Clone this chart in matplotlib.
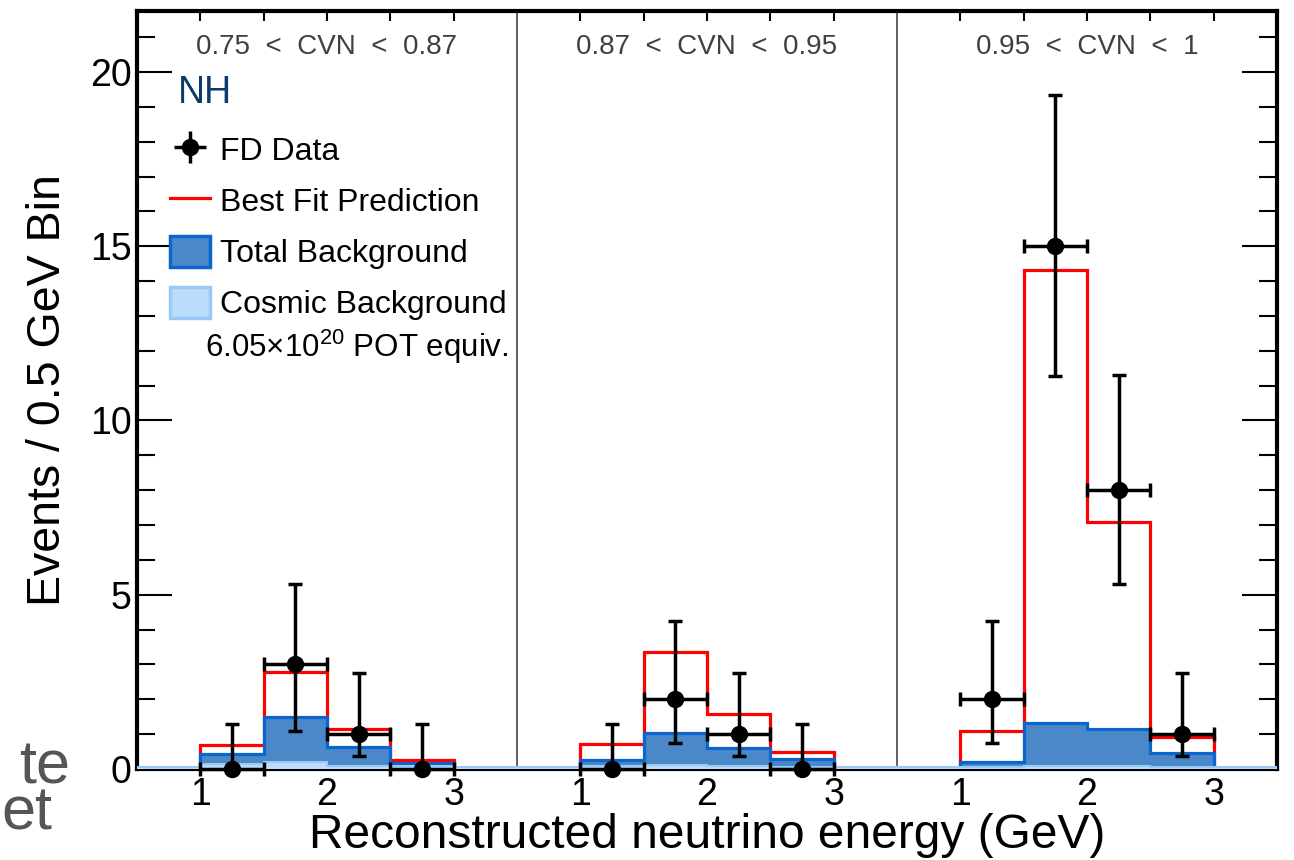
import matplotlib
matplotlib.use("Agg")
import matplotlib.pyplot as plt
from matplotlib.lines import Line2D
from matplotlib.patches import Patch
import numpy as np

plt.rcParams['font.family'] = ['Liberation Sans', 'DejaVu Sans']
plt.rcParams['mathtext.fontset'] = 'custom'
plt.rcParams['mathtext.rm'] = 'Liberation Sans'

# CVN slices, each drawn over 0.5 - 3.5 GeV side by side
panel_labels = ["0.75  <  CVN  <  0.87", "0.87  <  CVN  <  0.95", "0.95  <  CVN  <  1"]
bin_edges = [1.0, 1.5, 2.0, 2.5, 3.0]
cosmic_edges = [0.5, 1.0, 1.5, 2.0, 2.5, 3.0, 3.5]

best_fit = [
    [0.69, 2.78, 1.14, 0.26],
    [0.71, 3.36, 1.58, 0.48],
    [1.09, 14.32, 7.08, 0.93],
]
total_bkg = [
    [0.42, 1.48, 0.64, 0.18],
    [0.26, 1.02, 0.60, 0.29],
    [0.21, 1.33, 1.14, 0.47],
]
cosmic_bkg = [
    [0.06, 0.14, 0.20, 0.10, 0.08, 0.06],
    [0.06, 0.08, 0.12, 0.08, 0.07, 0.06],
    [0.06, 0.07, 0.08, 0.08, 0.07, 0.06],
]
fd_counts = [
    [0, 3, 1, 0],
    [0, 2, 1, 0],
    [2, 15, 8, 1],
]
# 68% intervals on the observed counts
fd_low = [
    [0.0, 1.10, 0.37, 0.0],
    [0.0, 0.74, 0.37, 0.0],
    [0.74, 11.28, 5.31, 0.37],
]
fd_high = [
    [1.29, 5.30, 2.75, 1.29],
    [1.29, 4.25, 2.75, 1.29],
    [4.25, 19.33, 11.31, 2.75],
]
energy_ticks = [1, 2, 3]

RED = '#ff0000'
BKG_FILL = '#4a88c8'
BKG_EDGE = '#0a66cc'
COS_FILL = '#bbdcfa'
COS_EDGE = '#99c9f4'

fig = plt.figure(figsize=(12.94, 8.6), dpi=100)
ax = fig.add_axes([137 / 1294, 1 - 769 / 860, 1140 / 1294, 758 / 860])

panel_width = 3.0
offset0 = 0.5
for k in range(3):
    shift = k * panel_width - offset0
    edges = np.array(bin_edges) + shift
    cedges = np.array(cosmic_edges) + shift
    ax.stairs(best_fit[k], edges, baseline=0, color=RED, linewidth=2.3, zorder=2)
    ax.stairs(total_bkg[k], edges, baseline=0, fill=True, color=BKG_FILL, zorder=3)
    ax.stairs(total_bkg[k], edges, baseline=0, color=BKG_EDGE, linewidth=2.3, zorder=3)
    ax.stairs(cosmic_bkg[k], cedges, baseline=0, fill=True, color=COS_FILL, zorder=4)
    ax.stairs(cosmic_bkg[k], cedges, baseline=None, color=COS_EDGE, linewidth=1.5, zorder=4)

    centers = (edges[:-1] + edges[1:]) / 2
    y = np.array(fd_counts[k], dtype=float)
    yerr = [y - np.array(fd_low[k]), np.array(fd_high[k]) - y]
    ax.errorbar(centers, y, xerr=0.25, yerr=yerr, fmt='o', color='black',
                ms=11.5, elinewidth=2.5, capsize=5, capthick=2.5,
                zorder=6, clip_on=False)

    ax.text(1.5 + k * panel_width, 0.952, panel_labels[k],
            transform=ax.get_xaxis_transform(), ha='center', va='center',
            fontsize=20, color='#404040')

for xd in [3.0, 6.0]:
    ax.axvline(xd, color='#555555', linewidth=1.3, zorder=1)

ax.set_xlim(0, 9)
ax.set_ylim(0, 21.75)

major_x = [e - offset0 + k * panel_width for k in range(3) for e in energy_ticks]
minor_x = [e - offset0 + k * panel_width for k in range(3) for e in bin_edges]
ax.set_xticks(major_x)
ax.set_xticklabels([str(e) for k in range(3) for e in energy_ticks])
ax.set_xticks(minor_x, minor=True)
ax.set_yticks([0, 5, 10, 15, 20])
ax.set_yticks(np.arange(0, 22, 1), minor=True)

ax.tick_params(axis='x', which='both', direction='in', top=True, length=7,
               width=1.5, labelsize=27, pad=6)
ax.tick_params(axis='y', which='major', direction='in', right=True, length=25,
               width=1.5, labelsize=27, pad=4)
ax.tick_params(axis='y', which='minor', direction='in', right=True, length=13,
               width=1.5)
for s in ax.spines.values():
    s.set_linewidth(3)

ax.set_xlabel("Reconstructed neutrino energy (GeV)", fontsize=34.5, labelpad=0)
ax.set_ylabel("Events / 0.5 GeV Bin", fontsize=33.5, labelpad=14)

ax.text(0.036, 0.892, "NH", transform=ax.transAxes, fontsize=27,
        color='#0b3a6b', ha='left', va='center')

# legend entry for the data: marker with plain cross, no caps
data_key = ax.errorbar([np.nan], [np.nan], xerr=[0.25], yerr=[1.0], fmt='o',
                       color='black', ms=11.5, elinewidth=2.5, capsize=0)
handles = [
    data_key,
    Line2D([], [], color=RED, linewidth=2.3),
    Patch(facecolor=BKG_FILL, edgecolor=BKG_EDGE, linewidth=2.5),
    Patch(facecolor=COS_FILL, edgecolor=COS_EDGE, linewidth=2.5),
]
labels = ["FD Data", "Best Fit Prediction", "Total Background", "Cosmic Background"]
ax.legend(handles, labels, loc='upper left', bbox_to_anchor=(0.029, 0.838),
          frameon=False, fontsize=23, handlelength=1.25, handleheight=1.1,
          handletextpad=0.3, labelspacing=0.56, borderaxespad=0, borderpad=0)

ax.text(0.06, 0.557, r"6.05×10$^{20}$ POT equiv.", transform=ax.transAxes,
        fontsize=22.5, ha='left', va='center')

# cut-off slide text on the left edge
fig.text(70 / 1294, 1 - 783 / 860, "te", fontsize=44, color='#555555',
         ha='right', va='baseline')
fig.text(52 / 1294, 1 - 830 / 860, "et", fontsize=44, color='#555555',
         ha='right', va='baseline')

fig.savefig("out.png", dpi=100)
